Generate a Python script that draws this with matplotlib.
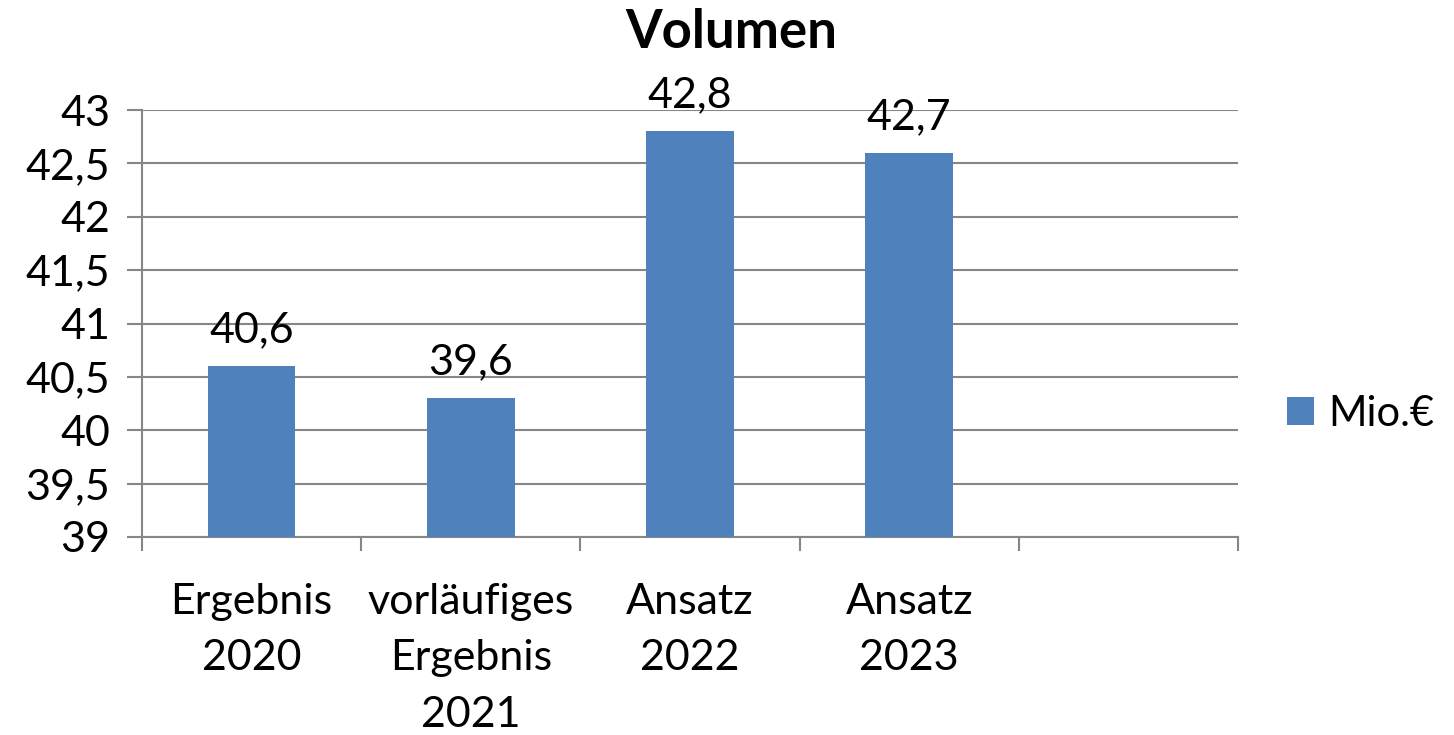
import matplotlib
matplotlib.use("Agg")
import matplotlib.pyplot as plt
from matplotlib.ticker import FixedLocator, FuncFormatter

categories = ["Ergebnis\n2020", "vorläufiges\nErgebnis\n2021", "Ansatz\n2022", "Ansatz\n2023"]
bar_heights = [40.6, 40.3, 42.8, 42.6]
value_labels = ["40,6", "39,6", "42,8", "42,7"]
y_ticks = [39, 39.5, 40, 40.5, 41, 41.5, 42, 42.5, 43]
series_name = "Mio.€"
title = "Volumen"

plt.rcParams['font.family'] = ['Lato', 'DejaVu Sans']
bar_color = "#4F81BD"
axis_color = "#868686"
fs = 31

fig = plt.figure(figsize=(14.54, 7.35), dpi=100)
ax = fig.add_axes([142/1454, 1 - 537/735, (1238-142)/1454, (537-110)/735])

x = list(range(len(categories)))
bars = ax.bar(x, bar_heights, width=0.4, color=bar_color, zorder=3, label=series_name)

ax.set_xlim(-0.5, 4.5)
ax.set_ylim(39, 43)
ax.yaxis.set_major_locator(FixedLocator(y_ticks))
ax.yaxis.set_major_formatter(FuncFormatter(lambda v, p: f"{v:g}".replace(".", ",")))
ax.grid(axis='y', color=axis_color, linewidth=1.5, zorder=0)

ax.set_xticks([i - 0.5 for i in range(6)])
ax.set_xticklabels([])
ax.set_xticks(x, minor=True)
ax.set_xticklabels(categories, minor=True, fontsize=fs, linespacing=1.6, va='top')
ax.tick_params(axis='x', which='major', direction='out', length=10, width=1.5, color=axis_color)
ax.tick_params(axis='x', which='minor', length=0, pad=33)
ax.tick_params(axis='y', direction='out', length=11, width=1.5, color=axis_color, labelsize=fs, pad=12)

for s in ['top', 'right']:
    ax.spines[s].set_visible(False)
for s in ['left', 'bottom']:
    ax.spines[s].set_color(axis_color)
    ax.spines[s].set_linewidth(1.5)

for rect, lab in zip(bars, value_labels):
    ax.annotate(lab, (rect.get_x() + rect.get_width()/2, rect.get_height()),
                xytext=(0, 12), textcoords='offset points', ha='center', va='bottom',
                fontsize=fs)

fig.text(731/1454, 1 - 32/735, title, ha='center', va='center', fontsize=38, fontweight='bold')

fig.legend(handles=[bars], labels=[series_name], loc='center left',
           bbox_to_anchor=(1287/1454, 1 - 414/735), frameon=False, fontsize=30,
           borderpad=0, borderaxespad=0,
           handlelength=0.65, handleheight=0.65, handletextpad=0.35)

fig.savefig("out.png", dpi=100)
